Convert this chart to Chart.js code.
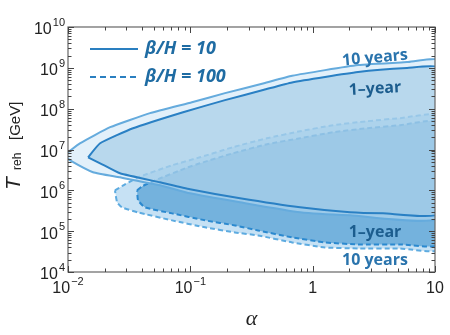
<!DOCTYPE html>
<html lang="en">
<head>
    <meta charset="UTF-8">
    <title>Reheating temperature vs alpha</title>
    <script src="https://cdn.jsdelivr.net/npm/chart.js"></script>
    <style>
        html, body { margin: 0; padding: 0; background: #fff; }
    </style>
</head>
<body>
    <canvas id="chart" width="450" height="335"></canvas>

    <script>
        // beta/H = 10, 10 years (outer solid contour, closed)
        const solid10yAlpha = [0.0092, 0.0100, 0.0125, 0.0221, 0.0468, 0.103, 0.192, 0.400, 0.679, 2.35, 5.91, 10.8,
                               10.8, 2.02, 0.789, 0.255, 0.0994, 0.0565, 0.0266, 0.0160, 0.0104, 0.0092];
        const solid10yT = [7.2e6, 8.6e6, 1.42e7, 3.52e7, 7.76e7, 1.44e8, 2.40e8, 4.2e8, 6.4e8, 1.17e9, 1.38e9, 1.50e9,
                           2.15e5, 2.44e5, 2.89e5, 5.08e5, 8.44e5, 1.33e6, 2.08e6, 2.77e6, 5.4e6, 7.2e6];

        // beta/H = 10, 1 year
        const solid1yAlpha = [0.0146, 0.0183, 0.0340, 0.0872, 0.192, 0.400, 0.679, 2.35, 5.91, 10.8,
                              10.8, 3.76, 2.02, 0.789, 0.255, 0.0994, 0.0565, 0.0266, 0.0183, 0.0146];
        const solid1yT = [6.45e6, 1.42e7, 3.32e7, 8.2e7, 1.62e8, 2.9e8, 4.4e8, 7.87e8, 9.86e8, 1.0e9,
                          2.73e5, 2.73e5, 2.89e5, 3.83e5, 6.37e5, 1.06e6, 1.57e6, 2.61e6, 4.6e6, 6.45e6];

        // beta/H = 100, 10 years
        const dashed10yAlpha = [0.0242, 0.0292, 0.0374, 0.0709, 0.120, 0.223, 0.424, 0.789, 1.47, 2.79, 5.18, 10.8,
                                10.8, 5.18, 2.35, 1.26, 0.679, 0.358, 0.232, 0.132, 0.0709, 0.0374, 0.0276, 0.0252, 0.0242];
        const dashed10yT = [1.0e6, 1.40e6, 2.08e6, 4.11e6, 6.45e6, 1.14e7, 1.89e7, 2.80e7, 3.94e7, 4.93e7, 5.85e7, 6.7e7,
                            3.55e4, 3.77e4, 3.77e4, 3.99e4, 5.30e4, 7.87e4, 9.31e4, 1.24e5, 1.84e5, 2.88e5, 3.83e5, 5.08e5, 1.0e6];

        // beta/H = 100, 1 year
        const dashed1yAlpha = [0.0367, 0.0403, 0.0515, 0.0958, 0.120, 0.223, 0.424, 0.789, 1.47, 2.79, 5.18, 10.8,
                               10.8, 5.18, 2.35, 1.26, 0.679, 0.358, 0.232, 0.132, 0.0709, 0.0426, 0.0374, 0.0367];
        const dashed1yT = [1.0e6, 1.25e6, 1.76e6, 3.67e6, 4.60e6, 8.09e6, 1.35e7, 1.89e7, 2.65e7, 3.32e7, 3.94e7, 4.7e7,
                           4.73e4, 4.73e4, 4.73e4, 5.30e4, 7.03e4, 1.04e5, 1.38e5, 1.84e5, 2.73e5, 3.83e5, 5.68e5, 1.0e6];

        // axis ticks
        const xTickValues = [0.01, 0.1, 1, 10];
        const xTickBase = ['10', '10', '1', '10'];
        const xTickExp = ['\u22122', '\u22121', '', ''];
        const yTickValues = [1e4, 1e5, 1e6, 1e7, 1e8, 1e9, 1e10];
        const yTickExp = ['4', '5', '6', '7', '8', '9', '10'];

        const legendLabels = ['\u03b2/H = 10', '\u03b2/H = 100'];

        const toPoints = (xs, ys) => xs.map((x, i) => ({ x: x, y: ys[i] }));

        function decadeMinors(lo, hi) {
            const out = [];
            for (let e = Math.round(Math.log10(lo)); e < Math.round(Math.log10(hi)); e++) {
                for (let k = 2; k <= 9; k++) out.push(k * Math.pow(10, e));
            }
            return out;
        }

        function drawPow(ctx, base, exp, x, y, align) {
            ctx.font = '16px "Liberation Sans"';
            const wb = ctx.measureText(base).width;
            ctx.font = '11px "Liberation Sans"';
            const we = exp ? ctx.measureText(exp).width + 1 : 0;
            const x0 = align === 'right' ? x - wb - we : x - (wb + we) / 2;
            ctx.textAlign = 'left';
            ctx.textBaseline = 'middle';
            ctx.font = '16px "Liberation Sans"';
            ctx.fillText(base, x0, y);
            if (exp) {
                ctx.font = '11px "Liberation Sans"';
                ctx.fillText(exp, x0 + wb + 1, y - 7);
            }
        }

        const decorations = {
            id: 'decorations',
            afterDraw(chart) {
                const { ctx, chartArea: a, scales: { x, y } } = chart;
                ctx.save();

                // frame
                ctx.strokeStyle = '#666';
                ctx.lineWidth = 1.2;
                ctx.strokeRect(a.left, a.top, a.right - a.left, a.bottom - a.top);

                // inward ticks on all four sides
                ctx.strokeStyle = '#444';
                ctx.lineWidth = 1;
                const xMinor = decadeMinors(0.01, 10);
                const yMinor = decadeMinors(1e4, 1e10);
                ctx.beginPath();
                xTickValues.forEach(v => {
                    const px = Math.round(x.getPixelForValue(v)) + 0.5;
                    ctx.moveTo(px, a.bottom); ctx.lineTo(px, a.bottom - 6);
                    ctx.moveTo(px, a.top); ctx.lineTo(px, a.top + 6);
                });
                xMinor.forEach(v => {
                    const px = Math.round(x.getPixelForValue(v)) + 0.5;
                    ctx.moveTo(px, a.bottom); ctx.lineTo(px, a.bottom - 3.5);
                    ctx.moveTo(px, a.top); ctx.lineTo(px, a.top + 3.5);
                });
                yTickValues.forEach(v => {
                    const py = Math.round(y.getPixelForValue(v)) + 0.5;
                    ctx.moveTo(a.left, py); ctx.lineTo(a.left + 6, py);
                    ctx.moveTo(a.right, py); ctx.lineTo(a.right - 6, py);
                });
                yMinor.forEach(v => {
                    const py = Math.round(y.getPixelForValue(v)) + 0.5;
                    ctx.moveTo(a.left, py); ctx.lineTo(a.left + 3.5, py);
                    ctx.moveTo(a.right, py); ctx.lineTo(a.right - 3.5, py);
                });
                ctx.stroke();

                // tick labels
                ctx.fillStyle = '#222';
                xTickValues.forEach((v, i) => {
                    drawPow(ctx, xTickBase[i], xTickExp[i], x.getPixelForValue(v), a.bottom + 17, 'center');
                });
                yTickValues.forEach((v, i) => {
                    drawPow(ctx, '10', yTickExp[i], a.left - 3, y.getPixelForValue(v) + 3, 'right');
                });

                // axis titles
                ctx.font = 'italic 22px "Liberation Serif"';
                ctx.textAlign = 'center';
                ctx.textBaseline = 'alphabetic';
                ctx.fillText('\u03b1', (a.left + a.right) / 2, 325);

                ctx.save();
                ctx.translate(19.5, 190);
                ctx.rotate(-Math.PI / 2);
                ctx.textAlign = 'left';
                ctx.font = 'italic 21px "Liberation Sans"';
                ctx.fillText('T', 0, 0);
                ctx.font = '12px "Liberation Sans"';
                ctx.fillText('reh', 20, 1.5);
                ctx.font = '15px "Liberation Sans"';
                ctx.fillText('[GeV]', 50, 0);
                ctx.restore();

                // legend
                ctx.lineWidth = 2;
                ctx.strokeStyle = '#2a7fc0';
                ctx.beginPath(); ctx.moveTo(90, 49); ctx.lineTo(138, 49); ctx.stroke();
                ctx.setLineDash([6, 4]);
                ctx.beginPath(); ctx.moveTo(90, 77); ctx.lineTo(138, 77); ctx.stroke();
                ctx.setLineDash([]);
                ctx.fillStyle = '#1f6ca3';
                ctx.font = 'italic bold 18px "Open Sans"';
                ctx.textAlign = 'left';
                ctx.textBaseline = 'middle';
                ctx.fillText(legendLabels[0], 145, 49);
                ctx.fillText(legendLabels[1], 145, 77);

                // contour labels
                const label = (txt, cx, cy, rot, color) => {
                    ctx.save();
                    ctx.translate(cx, cy);
                    ctx.rotate(rot * Math.PI / 180);
                    ctx.fillStyle = color;
                    ctx.font = 'bold 16px "Open Sans"';
                    ctx.textAlign = 'center';
                    ctx.textBaseline = 'middle';
                    ctx.fillText(txt, 0, 0);
                    ctx.restore();
                };
                label('10 years', 375, 58, -5, '#2a74ad');
                label('1\u2013year', 375, 89, -3, '#1c5d8e');
                label('1\u2013year', 375, 232, 0, '#1c5d8e');
                label('10 years', 375, 260, 0, '#2a74ad');

                ctx.restore();
            }
        };

        const common = { showLine: true, pointRadius: 0, borderWidth: 2, fill: 'shape', tension: 0.15, clip: 0 };

        new Chart(document.getElementById('chart'), {
            type: 'scatter',
            data: {
                datasets: [
                    Object.assign({}, common, {
                        label: '1 year, beta/H = 10',
                        data: toPoints(solid1yAlpha, solid1yT),
                        borderColor: '#2a80c4',
                        backgroundColor: 'rgba(156,201,230,0.59)',
                        order: 1
                    }),
                    Object.assign({}, common, {
                        label: '10 years, beta/H = 10',
                        data: toPoints(solid10yAlpha, solid10yT),
                        borderColor: '#65abdd',
                        backgroundColor: 'rgba(198,225,245,0.5)',
                        order: 2
                    }),
                    Object.assign({}, common, {
                        label: '1 year, beta/H = 100',
                        data: toPoints(dashed1yAlpha, dashed1yT),
                        borderColor: '#2b89cf',
                        backgroundColor: '#74b2dd',
                        borderDash: [5, 3],
                        order: 3
                    }),
                    Object.assign({}, common, {
                        label: '10 years, beta/H = 100',
                        data: toPoints(dashed10yAlpha, dashed10yT),
                        borderColor: '#5dabe0',
                        backgroundColor: '#c6e1f4',
                        borderDash: [5, 3],
                        order: 4
                    })
                ]
            },
            options: {
                responsive: false,
                animation: false,
                layout: { padding: { left: 68, right: 15, top: 27, bottom: 63 } },
                plugins: { legend: { display: false }, tooltip: { enabled: false } },
                scales: {
                    x: { type: 'logarithmic', min: 0.01, max: 10, display: false },
                    y: { type: 'logarithmic', min: 1e4, max: 1e10, display: false }
                }
            },
            plugins: [decorations]
        });
    </script>
</body>
</html>
